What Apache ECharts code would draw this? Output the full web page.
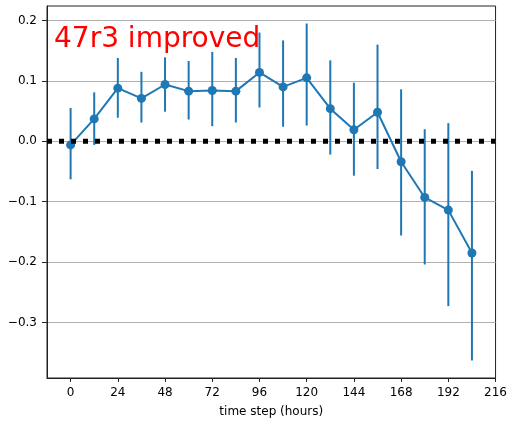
<!DOCTYPE html>
<html><head><meta charset="utf-8">
<script src="https://cdn.jsdelivr.net/npm/echarts@6/dist/echarts.min.js"></script>
<style>html,body{margin:0;padding:0;background:#fff}#c{width:510px;height:423px}</style>
</head><body><div id="c"></div>
<script>
const hours = [0,12,24,36,48,60,72,84,96,108,120,132,144,156,168,180,192,204];
const means = [-0.006,0.037,0.088,0.071,0.094,0.083,0.084,0.083,0.114,0.090,0.105,0.054,0.019,0.048,-0.034,-0.093,-0.114,-0.185];
const upper = [0.055,0.081,0.138,0.115,0.139,0.133,0.148,0.138,0.180,0.167,0.195,0.134,0.097,0.160,0.086,0.020,0.030,-0.049];
const lower = [-0.063,-0.006,0.039,0.031,0.049,0.036,0.025,0.031,0.056,0.024,0.026,-0.022,-0.057,-0.046,-0.156,-0.204,-0.273,-0.363];
const xTicks = [0,24,48,72,96,120,144,168,192,216];
const yTicks = [-0.3,-0.2,-0.1,0.0,0.1,0.2];
const titleText = '47r3 improved';
const xAxisName = 'time step (hours)';
const refLineX = [-12,216];
const refLineY = [0,0];

const blue = '#1f77b4';
const font = 'DejaVu Sans';
const chart = echarts.init(document.getElementById('c'), null, {renderer:'canvas'});
const fmtY = v => (v < -1e-9 ? '\u2212' + Math.abs(v).toFixed(1) : Math.abs(v).toFixed(1));

chart.setOption({
  animation: false,
  backgroundColor: '#fff',
  grid: {left: 47, right: 12, top: 6, bottom: 41, show: true, borderColor: '#222', borderWidth: 1, backgroundColor: 'transparent'},
  graphic: [{
    type: 'text', left: 54, top: 26, z: 100,
    style: {text: titleText, fill: '#ff0000', font: '28px "DejaVu Sans"'}
  }],
  xAxis: {
    type: 'value', min: -12, max: 216,
    name: xAxisName, nameLocation: 'middle', nameGap: 28,
    nameTextStyle: {fontFamily: font, fontSize: 12, color: '#000'},
    axisLine: {show: true, onZero: false, lineStyle: {color: '#222', width: 1}},
    axisTick: {show: true, inside: false, length: 4, customValues: xTicks, lineStyle: {color: '#222'}},
    axisLabel: {customValues: xTicks, fontFamily: font, fontSize: 12, color: '#000', margin: 9},
    splitLine: {show: false}
  },
  yAxis: {
    type: 'value', min: -0.392, max: 0.224,
    axisLine: {show: true, onZero: false, lineStyle: {color: '#222', width: 1}},
    axisTick: {show: true, inside: false, length: 5, customValues: yTicks, lineStyle: {color: '#222'}},
    axisLabel: {customValues: yTicks, fontFamily: font, fontSize: 12, color: '#000', margin: 10, formatter: fmtY},
    splitLine: {show: true, lineStyle: {color: '#b0b0b0', width: 1}}
  },
  series: [
    {
      type: 'custom', z: 3,
      data: hours.map((h, i) => [h, lower[i], upper[i]]),
      encode: {x: 0, y: [1, 2]},
      renderItem: (params, api) => {
        const x = api.value(0);
        const p1 = api.coord([x, api.value(1)]);
        const p2 = api.coord([x, api.value(2)]);
        return {type: 'line', shape: {x1: p1[0], y1: p1[1], x2: p2[0], y2: p2[1]}, style: {stroke: blue, lineWidth: 2}};
      }
    },
    {
      type: 'line', z: 4,
      data: hours.map((h, i) => [h, means[i]]),
      symbol: 'circle', symbolSize: 9, showSymbol: true,
      itemStyle: {color: blue},
      lineStyle: {color: blue, width: 2}
    },
    {
      type: 'line', z: 5,
      data: refLineX.map((x, i) => [x, refLineY[i]]),
      symbol: 'none',
      lineStyle: {color: '#000', width: 5, type: [5, 7], cap: 'butt'}
    }
  ]
});
</script></body></html>
